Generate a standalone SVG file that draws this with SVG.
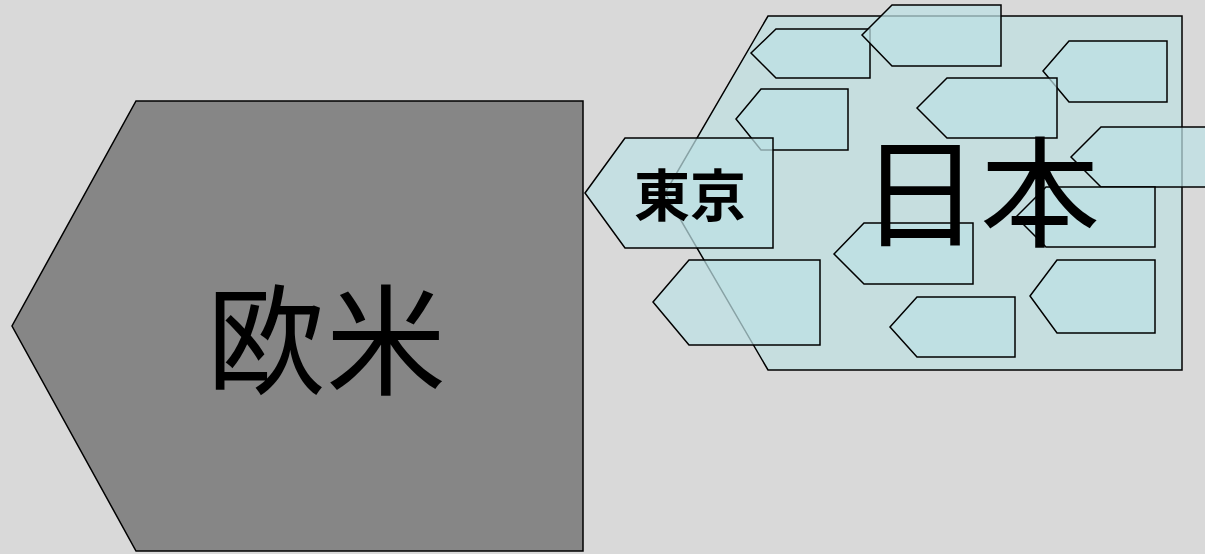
<svg xmlns="http://www.w3.org/2000/svg" width="1205" height="554" viewBox="0 0 1205 554">
<style>
.bg{fill:#d9d9d9}
.west{fill:#868686;stroke:#000;stroke-width:1.5}
.japan{fill:#c6dedf;stroke:#000;stroke-width:1.5}
.tag{fill:#bde0e5;fill-opacity:0.72;stroke:#000;stroke-width:1.5}
.big{font-family:"Noto Sans CJK JP","Noto Sans CJK SC",sans-serif;font-size:120px;fill:#000;text-anchor:middle}
.small{font-family:"Noto Sans CJK JP","Noto Sans CJK SC",sans-serif;font-size:56px;font-weight:bold;fill:#000;text-anchor:middle}
</style>
<rect class="bg" x="0" y="0" width="1205" height="554"/>
<g id="node-west">
<polygon class="west" points="136,101 583,101 583,551 136,551 12,326"/>
<text class="big" x="326" y="386">欧米</text>
</g>
<g id="node-japan">
<polygon class="japan" points="768,16 1182,16 1182,370 768,370 665,193"/>
</g>
<g id="node-tag-a"><polygon class="tag" points="751,53 776,29 870,29 870,78 776,78"/></g>
<g id="node-tag-b"><polygon class="tag" points="862,35 892,5 1001,5 1001,66 892,66"/></g>
<g id="node-tag-c"><polygon class="tag" points="1043,71 1069,41 1167,41 1167,102 1069,102"/></g>
<g id="node-tag-d"><polygon class="tag" points="736,119 761,89 848,89 848,150 761,150"/></g>
<g id="node-tag-e"><polygon class="tag" points="917,108 947,78 1057,78 1057,138 947,138"/></g>
<g id="node-tag-f"><polygon class="tag" points="1071,157 1101,127 1210,127 1210,187 1101,187"/></g>
<g id="node-tag-g"><polygon class="tag" points="1016,217 1046,187 1155,187 1155,247 1046,247"/></g>
<g id="node-tag-h"><polygon class="tag" points="834,254 864,223 973,223 973,284 864,284"/></g>
<g id="node-tag-i"><polygon class="tag" points="653,302 689,260 820,260 820,345 689,345"/></g>
<g id="node-tag-j"><polygon class="tag" points="890,327 917,297 1015,297 1015,357 917,357"/></g>
<g id="node-tag-k"><polygon class="tag" points="1030,296 1057,260 1155,260 1155,333 1057,333"/></g>
<g id="node-tokyo">
<polygon class="tag" points="585,193 625,138 773,138 773,248 625,248"/>
<text class="small" x="690" y="216">東京</text>
</g>
<g id="node-japan-label">
<text class="big" x="980" y="238">日本</text>
</g>
<g id="connectors"/>
</svg>
